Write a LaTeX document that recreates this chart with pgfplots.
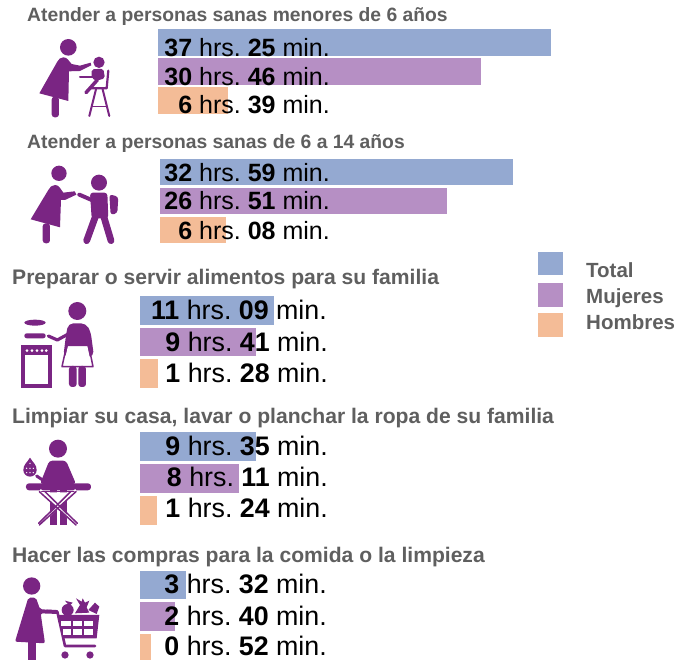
\documentclass[border=0pt]{standalone}
\usepackage{fontspec}
\setmainfont{Liberation Sans}
\usepackage{pgfplots}
\pgfplotsset{compat=1.18}
\frenchspacing
\definecolor{cT}{HTML}{94A9D1}
\definecolor{cM}{HTML}{B68FC4}
\definecolor{cH}{HTML}{F4BC97}
\definecolor{cI}{HTML}{7A2583}
\definecolor{cG}{HTML}{5F5F5F}
\newcommand\lab[4]{\node[anchor=base east,inner sep=0pt,text=black] at (#1pt,-#2pt) {\frenchspacing\fontsize{25}{25}\selectfont\textbf{#3} hrs. \textbf{#4} min.};}
\newcommand\labb[4]{\node[anchor=base east,inner sep=0pt,text=black] at (#1pt,-#2pt) {\frenchspacing\fontsize{26.8}{26.8}\selectfont\textbf{#3} hrs. \textbf{#4} min.};}
\newcommand\ttl[4]{\node[anchor=base west,inner sep=0pt,text=cG] at (#1pt,-#2pt) {\fontsize{#3}{#3}\selectfont\bfseries #4};}
\pgfplotsset{panel/.style={hide axis,scale only axis,xmin=0,ymin=-0.5,ymax=2.5,y dir=reverse,anchor=north west}}
\newcommand\bars[3]{%
\addplot[xbar,bar shift=0pt,draw=none,fill=cT] coordinates {(#1,0)};
\addplot[xbar,bar shift=0pt,draw=none,fill=cM] coordinates {(#2,1)};
\addplot[xbar,bar shift=0pt,draw=none,fill=cH] coordinates {(#3,2)};}
\begin{document}
\begin{tikzpicture}[x=1pt,y=1pt]
\path[use as bounding box] (0,0) rectangle (679,-660);
% Panel 1
\begin{axis}[panel,at={(158pt,-28pt)},width=420pt,height=87pt,xmax=40,bar width=26.5pt]
\bars{37.42}{30.77}{6.65}
\end{axis}
% Panel 2
\begin{axis}[panel,at={(160pt,-157.5pt)},width=428pt,height=87pt,xmax=40,bar width=26.5pt]
\bars{32.98}{26.85}{6.13}
\end{axis}
% Panel 3
\begin{axis}[panel,at={(140pt,-294.75pt)},width=144pt,height=94.5pt,xmax=12,bar width=28.5pt]
\bars{11.15}{9.68}{1.47}
\end{axis}
% Panel 4
\begin{axis}[panel,at={(140pt,-430.5pt)},width=145pt,height=96pt,xmax=12,bar width=29pt]
\bars{9.58}{8.18}{1.40}
\end{axis}
% Panel 5
\begin{axis}[panel,at={(140pt,-569.25pt)},width=52pt,height=94.5pt,xmax=4,bar width=28.5pt]
\bars{3.53}{2.67}{0.87}
\end{axis}
% Titles
\ttl{27}{21.5}{19.3}{Atender a personas sanas menores de 6 años}
\ttl{27}{148.5}{19.3}{Atender a personas sanas de 6 a 14 años}
\ttl{12}{284.5}{21.1}{Preparar o servir alimentos para su familia}
\ttl{12}{423.5}{21.1}{Limpiar su casa, lavar o planchar la ropa de su familia}
\ttl{12}{562}{21.1}{Hacer las compras para la comida o la limpieza}
% Bar texts
\lab{330}{57}{37}{25}\lab{330}{86}{30}{46}\lab{330}{114}{6}{39}
\lab{330}{182}{32}{59}\lab{330}{210}{26}{51}\lab{330}{239}{6}{08}
\labb{327}{319}{11}{09}\labb{328}{351}{9}{41}\labb{328}{382}{1}{28}
\labb{328}{455}{9}{35}\labb{328}{486}{8}{11}\labb{328}{517}{1}{24}
\labb{327}{593}{3}{32}\labb{327}{625}{2}{40}\labb{327}{655}{0}{52}
% Legend
\fill[cT] (538,-252) rectangle (563,-275);
\fill[cM] (538,-283) rectangle (563,-307);
\fill[cH] (538,-313) rectangle (563,-337);
\begin{scope}[every node/.style={anchor=base west,inner sep=0pt,text=cG,font=\fontsize{20.5}{20.5}\selectfont\bfseries}]
\node at (586,-277) {Total};
\node at (586,-303) {Mujeres};
\node at (586,-329) {Hombres};
\end{scope}
% Icon 1
\begin{scope}[x=0.3333pt,y=-0.3333pt,fill=cI,draw=cI,line cap=round,line join=round]
\fill (205,142) circle (25);
\fill (190,172) to[out=0,in=135] (215,192) -- (240,197) -- (272,188) -- (274,196) -- (240,213) -- (207,214) -- (205,303) -- (118,280) -- (172,185) to[out=60,in=180] cycle;
\fill[rounded corners=3pt] (155,290) rectangle (177,352);
\fill (297,187) circle (17);
\fill[rounded corners=2pt] (275,208) -- (310,206) -- (315,235) -- (290,242) -- (275,235) -- cycle;
\draw[line width=3.5pt] (292,240) -- (258,278);
\draw[line width=2pt] (240,232) -- (305,232);
\draw[line width=2.2pt] (325,212) -- (320,265) -- (272,265);
\draw[line width=2pt] (288,268) -- (268,348);
\draw[line width=2pt] (308,268) -- (328,348);
\draw[line width=1.5pt] (277,320) -- (320,320);
\end{scope}
% Icon 2
\begin{scope}[x=0.3333pt,y=-0.3333pt,fill=cI,draw=cI,line cap=round,line join=round]
\fill (177,520) circle (23);
\fill (165,555) to[out=0,in=130] (190,578) -- (224,574) -- (229,584) -- (195,600) -- (183,600) -- (180,682) -- (92,658) -- (145,570) to[out=60,in=180] cycle;
\fill[rounded corners=3pt] (128,670) rectangle (150,730);
\fill (297,548) circle (24);
\fill[rounded corners=3pt] (270,578) -- (322,578) -- (325,655) -- (275,655) -- cycle;
\draw[line width=4pt] (238,584) -- (275,600);
\fill[rounded corners=3pt] (328,583) -- (355,590) -- (352,640) -- (332,645) -- cycle;
\draw[line width=6.8pt] (288,645) -- (260,722);
\draw[line width=6.8pt] (310,645) -- (333,722);
\end{scope}
% Icon 3
\begin{scope}[yshift=-260pt,x=0.3333pt,y=-0.3333pt,fill=cI,draw=cI,line cap=round,line join=round]
\fill (232,153) circle (27);
\fill[rounded corners=5pt] (205,190) -- (258,190) -- (272,215) -- (282,290) -- (190,290) -- (198,225) -- cycle;
\draw[line width=3.2pt] (205,222) -- (172,240) -- (145,228);
\fill[rounded corners=2.4pt] (73,220) rectangle (137,235);
\fill (105,188) ellipse (32 and 9);
\fill[white] (204,258) -- (262,258) -- (275,318) -- (190,318) -- cycle;
\draw[line width=1.5pt] (200,256) -- (266,256) -- (279,320) -- (186,320) -- cycle;
\fill[rounded corners=3pt] (207,318) rectangle (230,381);
\fill[rounded corners=3pt] (235,318) rectangle (258,381);
\fill (62,256) rectangle (156,384);
\fill[white] (74,286) rectangle (144,373);
\foreach \x in {81,96,111,126,139} {\fill[white] (\x,272) circle (4.5);}
\end{scope}
% Icon 4
\begin{scope}[yshift=-260pt,x=0.3333pt,y=-0.3333pt,fill=cI,draw=cI,line cap=round,line join=round]
\fill (174,566) circle (27);
\fill[rounded corners=3pt] (148,602) -- (198,602) -- (228,672) -- (120,672) -- cycle;
\draw[line width=3pt] (110,648) -- (135,665);
\fill (90,593) to[out=-60,in=90] (110,630) to[out=-90,in=0] (90,650) to[out=180,in=-90] (70,630) to[out=90,in=240] cycle;
\foreach \p in {(90,610),(80,625),(100,625),(90,625),(80,638),(90,638),(100,638)} {\fill[white] \p circle (2.2);}
\fill[rounded corners=3pt] (78,670) rectangle (273,691);
\fill (150,690) rectangle (170,795);
\fill (180,690) rectangle (200,795);
\fill[white] (125,697) -- (222,697) -- (175,745) -- cycle;
\draw[line width=1.8pt,white] (122,690) -- (228,795);
\draw[line width=1.8pt,white] (226,690) -- (120,795);
\draw[line width=1.5pt] (125,695) -- (222,695);
\draw[line width=1.5pt] (118,695) -- (228,795);
\draw[line width=1.5pt] (228,695) -- (118,795);
\draw[line width=1.5pt] (135,695) -- (232,790);
\draw[line width=1.5pt] (212,695) -- (116,790);
\end{scope}
% Icon 5
\begin{scope}[yshift=-530pt,x=0.3333pt,y=-0.3333pt,fill=cI,draw=cI,line cap=round,line join=round]
\fill (95,168) circle (26);
\fill[rounded corners=2pt] (85,203) -- (108,203) -- (120,238) -- (175,240) -- (175,252) -- (122,250) -- (135,340) -- (45,335) -- cycle;
\fill (83,330) rectangle (107,395);
\draw[line width=2.6pt] (140,243) -- (172,245) -- (195,348) -- (285,348);
\fill (172,255) -- (298,255) -- (290,325) -- (190,325) -- cycle;
\fill[white] (184,272) rectangle (212,288);
\fill[white] (218,272) rectangle (246,288);
\fill[white] (252,272) rectangle (280,288);
\fill[white] (188,298) rectangle (214,314);
\fill[white] (220,298) rectangle (246,314);
\fill[white] (252,298) rectangle (278,314);
\fill (195,375) circle (11);
\fill (270,375) circle (11);
\fill (203,240) circle (18);
\fill (195,212) -- (218,218) -- (208,228) -- cycle;
\fill (240,225) -- (228,205) -- (245,215) -- (248,205) -- (255,218) -- (268,212) -- (260,232) -- (268,248) -- (225,250) -- cycle;
\fill (265,240) -- (285,218) -- (298,230) -- (290,252) -- cycle;
\end{scope}
\end{tikzpicture}
\end{document}
